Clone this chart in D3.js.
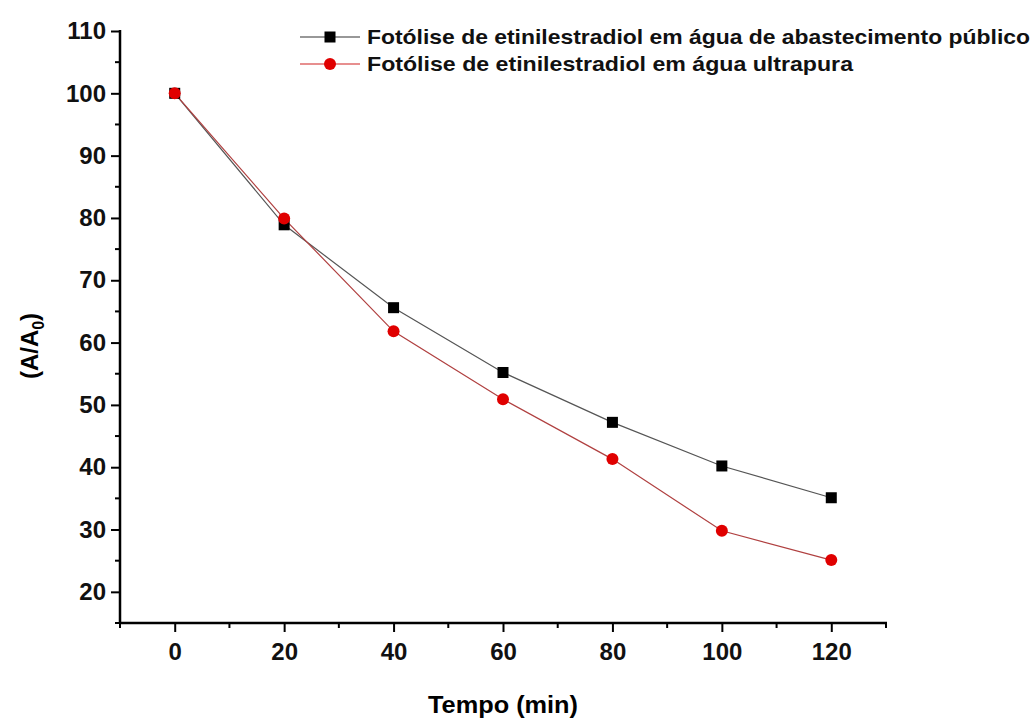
<!DOCTYPE html>
<html>
<head>
<meta charset="utf-8">
<script src="https://cdn.jsdelivr.net/npm/d3@7"></script>
<style>
  body { margin: 0; background: #fff; }
  text { font-family: "Liberation Sans", Arial, sans-serif; font-weight: bold; }
</style>
</head>
<body>
<script>
var tempo = [0, 20, 40, 60, 80, 100, 120];
var abastecimento = [100, 78.9, 65.6, 55.2, 47.2, 40.2, 35.1];
var ultrapura = [100, 79.9, 61.8, 50.9, 41.3, 29.8, 25.1];
var seriesNames = ['Fotólise de etinilestradiol em água de abastecimento público',
                   'Fotólise de etinilestradiol em água ultrapura'];
var xTicks = [0, 20, 40, 60, 80, 100, 120];
var yTicks = [20, 30, 40, 50, 60, 70, 80, 90, 100, 110];

var width = 1035, height = 718;
var svg = d3.select('body').append('svg')
    .attr('width', width)
    .attr('height', height);

var x = d3.scaleLinear().domain([-10, 130]).range([120, 886]);
var y = d3.scaleLinear().domain([15, 110]).range([623, 31]);

// axes
var xAxis = d3.axisBottom(x).tickValues(xTicks).tickSize(9).tickPadding(11);
var gx = svg.append('g').attr('transform', 'translate(0,' + y(15) + ')').call(xAxis);
var xMinor = d3.range(-10, 131, 20);
gx.selectAll('.minor').data(xMinor).enter().append('line')
    .attr('x1', function (d) { return x(d); })
    .attr('x2', function (d) { return x(d); })
    .attr('y1', 0).attr('y2', 5)
    .attr('stroke', '#000').attr('stroke-width', 2);

var yAxis = d3.axisLeft(y).tickValues(yTicks).tickSize(9).tickPadding(5);
var gy = svg.append('g').attr('transform', 'translate(' + x(-10) + ',0)').call(yAxis);
var yMinor = d3.range(15, 111, 10);
gy.selectAll('.minor').data(yMinor).enter().append('line')
    .attr('y1', function (d) { return y(d); })
    .attr('y2', function (d) { return y(d); })
    .attr('x1', 0).attr('x2', -5)
    .attr('stroke', '#000').attr('stroke-width', 2);

[gx, gy].forEach(function (g) {
    g.select('.domain').remove();
    g.selectAll('.tick line').attr('stroke', '#000').attr('stroke-width', 2);
    g.selectAll('.tick text').attr('font-size', 24).attr('fill', '#111');
});
gx.append('line').attr('x1', x(-10) - 1).attr('x2', x(130) + 1).attr('y1', 0).attr('y2', 0)
    .attr('stroke', '#000').attr('stroke-width', 2.5);
gy.append('line').attr('x1', 0).attr('x2', 0).attr('y1', y(15) + 1).attr('y2', y(110) - 1)
    .attr('stroke', '#000').attr('stroke-width', 2.5);

// axis titles
svg.append('text')
    .attr('x', 503).attr('y', 713)
    .attr('text-anchor', 'middle')
    .attr('font-size', 24)
    .attr('textLength', 150)
    .attr('lengthAdjust', 'spacingAndGlyphs')
    .text('Tempo (min)');

var yt = svg.append('text')
    .attr('transform', 'translate(38,346) rotate(-90)')
    .attr('text-anchor', 'middle')
    .attr('font-size', 24);
yt.append('tspan').text('(A/A');
yt.append('tspan').attr('font-size', 16).attr('dy', 6).text('0');
yt.append('tspan').attr('dy', -6).text(')');

// lines
var line = d3.line()
    .x(function (d) { return x(d[0]); })
    .y(function (d) { return y(d[1]); });

var dataA = tempo.map(function (t, i) { return [t, abastecimento[i]]; });
var dataU = tempo.map(function (t, i) { return [t, ultrapura[i]]; });

svg.append('path').datum(dataA).attr('d', line)
    .attr('fill', 'none').attr('stroke', '#555').attr('stroke-width', 1.2);
svg.append('path').datum(dataU).attr('d', line)
    .attr('fill', 'none').attr('stroke', '#b04040').attr('stroke-width', 1.2);

svg.selectAll('.sq').data(dataA).enter().append('rect')
    .attr('x', function (d) { return x(d[0]) - 5.5; })
    .attr('y', function (d) { return y(d[1]) - 5.5; })
    .attr('width', 11).attr('height', 11)
    .attr('fill', '#000');

svg.selectAll('.ci').data(dataU).enter().append('circle')
    .attr('cx', function (d) { return x(d[0]); })
    .attr('cy', function (d) { return y(d[1]); })
    .attr('r', 6)
    .attr('fill', '#e00000');

// legend
var legend = svg.append('g');
var ly = [37, 64];
var lw = [663, 486];
legend.append('line').attr('x1', 300).attr('x2', 360).attr('y1', ly[0]).attr('y2', ly[0])
    .attr('stroke', '#333').attr('stroke-width', 1.2);
legend.append('rect').attr('x', 330 - 5.5).attr('y', ly[0] - 5.5)
    .attr('width', 11).attr('height', 11).attr('fill', '#000');
legend.append('line').attr('x1', 300).attr('x2', 360).attr('y1', ly[1]).attr('y2', ly[1])
    .attr('stroke', '#d02020').attr('stroke-width', 1.2);
legend.append('circle').attr('cx', 330).attr('cy', ly[1]).attr('r', 6).attr('fill', '#e00000');

seriesNames.forEach(function (name, i) {
    legend.append('text')
        .attr('x', 367).attr('y', ly[i] + 7)
        .attr('font-size', 20.5)
        .attr('fill', '#111')
        .attr('textLength', lw[i])
        .attr('lengthAdjust', 'spacingAndGlyphs')
        .text(name);
});
</script>
</body>
</html>
